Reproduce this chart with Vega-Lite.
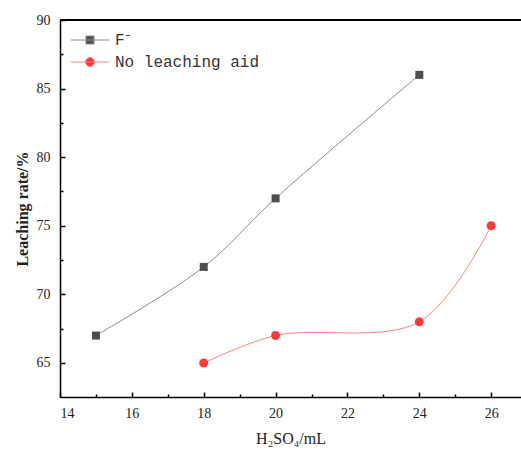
{
  "$schema": "https://vega.github.io/schema/vega-lite/v6.json",
  "autosize": "none",
  "padding": {"left": 60, "top": 20, "right": 0, "bottom": 55},
  "width": 461,
  "height": 377,
  "background": "white",
  "config": {"view": {"stroke": null}},
  "data": {
    "values": [
      {"series": "F⁻", "x": 15, "y": 67},
      {"series": "F⁻", "x": 18, "y": 72},
      {"series": "F⁻", "x": 20, "y": 77},
      {"series": "F⁻", "x": 24, "y": 86},
      {"series": "No leaching aid", "x": 18, "y": 65},
      {"series": "No leaching aid", "x": 20, "y": 67},
      {"series": "No leaching aid", "x": 24, "y": 68},
      {"series": "No leaching aid", "x": 26, "y": 75}
    ]
  },
  "encoding": {
    "x": {
      "field": "x", "type": "quantitative",
      "scale": {"domain": [14, 26.83], "nice": false, "zero": false},
      "axis": {
        "title": "H₂SO₄/mL",
        "titleFont": "Liberation Serif", "titleFontSize": 16, "titleFontWeight": "normal", "titleColor": "#222", "titlePadding": 10,
        "values": [14,15,16,17,18,19,20,21,22,23,24,25,26],
        "labelExpr": "datum.value % 2 == 0 ? datum.label : ''",
        "labelFont": "Liberation Serif", "labelFontSize": 14, "labelColor": "#222", "labelPadding": 14,
        "tickSize": {"condition": {"test": "datum.value % 2 == 1", "value": -3}, "value": -5},
        "tickColor": "black", "tickWidth": 1.5,
        "domainColor": "black", "domainWidth": 1.5,
        "grid": false
      }
    },
    "y": {
      "field": "y", "type": "quantitative",
      "scale": {"domain": [62.52, 90], "nice": false, "zero": false},
      "axis": {
        "title": "Leaching rate/%",
        "titleFont": "Liberation Serif", "titleFontSize": 16, "titleFontWeight": "bold", "titleColor": "#222", "titlePadding": 6,
        "values": [65,67.5,70,72.5,75,77.5,80,82.5,85,87.5,90],
        "labelExpr": "datum.value % 5 == 0 ? datum.label : ''",
        "labelFont": "Liberation Serif", "labelFontSize": 14, "labelColor": "#222", "labelPadding": 15,
        "tickSize": {"condition": {"test": "datum.value % 5 != 0", "value": -3}, "value": -5},
        "tickColor": "black", "tickWidth": 1.5,
        "domainColor": "black", "domainWidth": 1.5,
        "grid": false
      }
    }
  },
  "layer": [
    {
      "mark": {"type": "rule", "color": "black", "strokeWidth": 1.5},
      "encoding": {"y": {"datum": 90}, "x": null}
    },
    {
      "transform": [{"filter": "datum.series == 'F⁻'"}],
      "mark": {"type": "line", "interpolate": "catmull-rom", "strokeWidth": 1, "color": "#8a8a8a"},
      "encoding": {}
    },
    {
      "transform": [{"filter": "datum.series != 'F⁻'"}],
      "mark": {"type": "line", "interpolate": "catmull-rom", "strokeWidth": 1, "color": "#ff8080"},
      "encoding": {}
    },
    {
      "transform": [{"filter": "false"}],
      "mark": {"type": "point", "filled": true, "opacity": 1, "strokeWidth": 1},
      "encoding": {
        "color": {
          "field": "series", "type": "nominal",
          "scale": {"domain": ["F⁻", "No leaching aid"], "range": ["#4d4d4d", "#f43c3c"]},
          "legend": {
            "title": null,
            "orient": "none", "legendX": 22, "legendY": 12,
            "padding": 0,
            "labelFont": "Liberation Mono", "labelFontSize": 16, "labelColor": "#333",
            "labelOffset": 17, "rowPadding": 6, "symbolSize": 100, "symbolStrokeWidth": 1
          }
        },
        "stroke": {
          "field": "series", "type": "nominal",
          "scale": {"domain": ["F⁻", "No leaching aid"], "range": ["#8a8a8a", "#ff8080"]}
        },
        "shape": {
          "field": "series", "type": "nominal",
          "scale": {"domain": ["F⁻", "No leaching aid"], "range": ["M-3.8,0H3.8M-0.8,-0.8H0.8V0.8H-0.8Z", "M-3.8,0H3.8M0.9,0A0.9,0.9 0 1,1 -0.9,0A0.9,0.9 0 1,1 0.9,0Z"]}
        }
      }
    },
    {
      "transform": [{"filter": "datum.series == 'F⁻'"}],
      "mark": {"type": "point", "filled": true, "opacity": 1, "size": 64, "shape": "square"},
      "encoding": {
        "color": {"field": "series", "type": "nominal"}
      }
    },
    {
      "transform": [{"filter": "datum.series != 'F⁻'"}],
      "mark": {"type": "point", "filled": true, "opacity": 1, "size": 81, "shape": "circle"},
      "encoding": {
        "color": {"field": "series", "type": "nominal"}
      }
    }
  ]
}
